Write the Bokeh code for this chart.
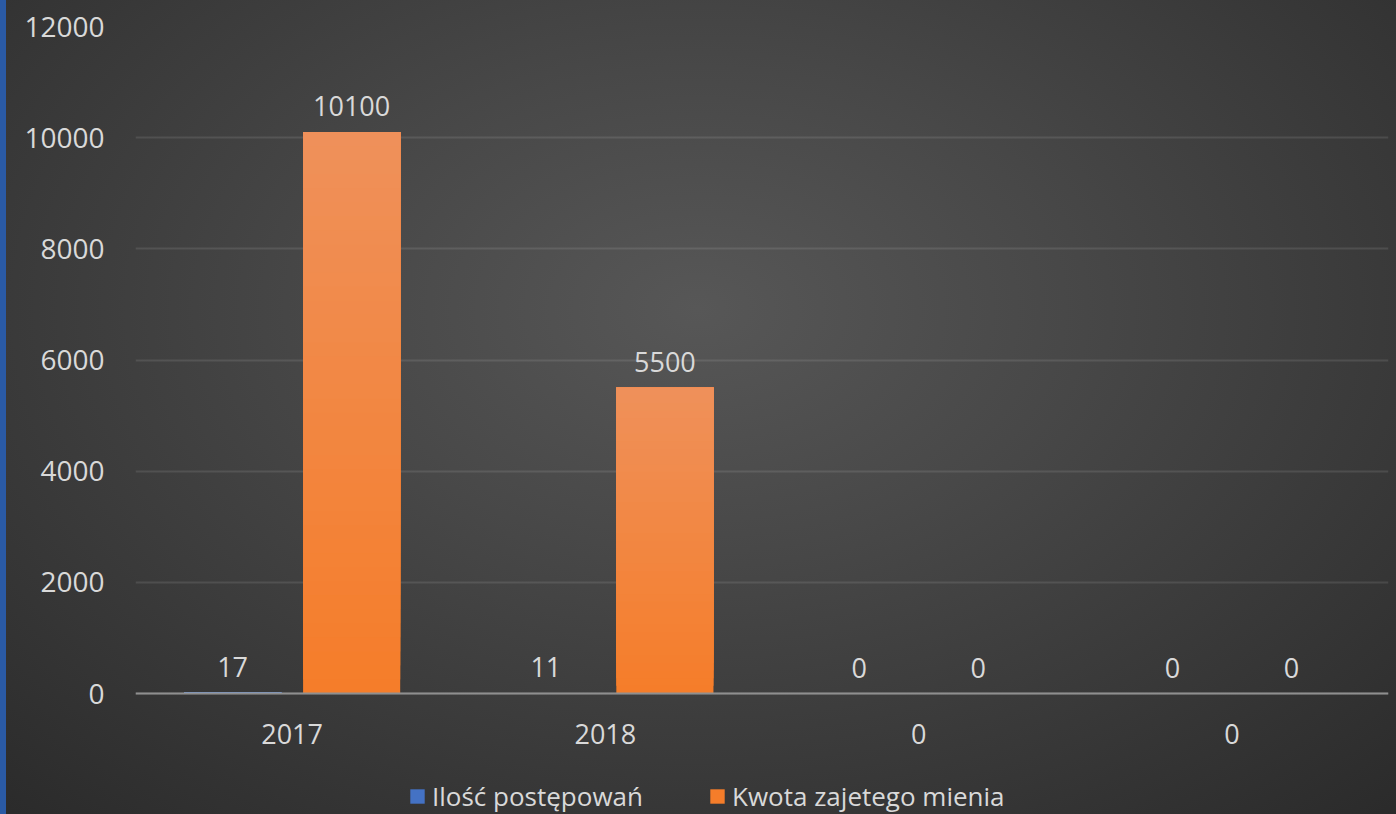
from bokeh.plotting import figure
from bokeh.models import FixedTicker, Legend, LegendItem, ColumnDataSource
from bokeh.core.properties import value
from bokeh.embed import file_html
from bokeh.resources import INLINE

categories = ["2017", "2018", "0", "0"]
series_names = ["Ilość postępowań", "Kwota zajetego mienia"]
ilosc = [17, 11, 0, 0]
kwota = [10100, 5500, 0, 0]
y_ticks = [0, 2000, 4000, 6000, 8000, 10000, 12000]

FONT = "Open Sans"
TXT = "#d9d9d9"

# frame runs to the bottom edge; value 0 sits 121px above it (space for labels + legend)
y_max = 12000
px_per_unit = 667 / y_max
y_min = -121 / px_per_unit

p = figure(width=1396, height=814, frame_width=1253, frame_height=788,
           x_range=(0, len(categories)), y_range=(y_min, y_max),
           output_backend="svg", toolbar_location=None,
           min_border_left=135, min_border_top=26, min_border_right=8, min_border_bottom=0)
p.background_fill_alpha = 0
p.border_fill_alpha = 0
p.outline_line_color = None
p.styles = {"background": "linear-gradient(to right, #2A5AA5 0px, #2A5AA5 6px, transparent 6px), "
                          "radial-gradient(ellipse 75% 85% at 50% 38%, #575757 0%, #484848 35%, #2a2a2a 100%)"}

xc = [i + 0.5 for i in range(len(categories))]
off = 0.19
bw = 0.31

def gradient_bars(xs, vals, c_top, c_bot, n=40):
    first = None
    for k in range(n):
        f0 = k / n
        col = "#%02x%02x%02x" % tuple(int(round(c_bot[j] + (c_top[j] - c_bot[j]) * f0)) for j in range(3))
        src = ColumnDataSource(dict(x=xs, b=[v * f0 for v in vals], t=list(vals)))
        r = p.vbar(x="x", bottom="b", top="t", width=bw, source=src, fill_color=col, line_color=None)
        if first is None:
            first = r
    return first

xb = [x - off for x in xc]
xo = [x + off for x in xc]
r_blue = gradient_bars(xb, ilosc, (125, 160, 220), (68, 114, 196))
r_orange = gradient_bars(xo, kwota, (239, 145, 91), (245, 125, 42))

# data labels
for xs, vals in ((xb, ilosc), (xo, kwota)):
    p.text(x=xs, y=vals, text=[str(v) for v in vals], text_align="center", text_baseline="bottom",
           y_offset=-16, text_color=TXT, text_font=value(FONT), text_font_size="27px")

# x axis pinned at value 0
p.xaxis.fixed_location = 0
p.xaxis.ticker = FixedTicker(ticks=xc)
p.xaxis.major_label_overrides = {x: c for x, c in zip(xc, categories)}
p.xaxis.major_tick_line_color = None
p.xaxis.minor_tick_line_color = None
p.xaxis.axis_line_color = "#8f8f8f"
p.xaxis.axis_line_width = 2
p.xaxis.major_label_standoff = 24
p.xaxis.major_label_text_font = FONT
p.xaxis.major_label_text_font_size = "27px"
p.xaxis.major_label_text_color = TXT

p.yaxis.ticker = FixedTicker(ticks=y_ticks)
p.yaxis.major_tick_line_color = None
p.yaxis.minor_tick_line_color = None
p.yaxis.axis_line_color = None
p.yaxis.major_label_standoff = 25
p.yaxis.major_label_text_font = FONT
p.yaxis.major_label_text_font_size = "28px"
p.yaxis.major_label_text_color = TXT

p.xgrid.grid_line_color = None
p.ygrid.grid_line_color = "#ffffff"
p.ygrid.grid_line_alpha = 0.1
p.ygrid.grid_line_width = 2

# legends (one per series, at the bottom of the frame)
legend_x = [273, 573]
for name, rend, lx in zip(series_names, (r_blue, r_orange), legend_x):
    lg = Legend(items=[LegendItem(label=name, renderers=[rend], index=0)],
                orientation="horizontal", location=(lx, 0))
    lg.background_fill_alpha = 0
    lg.border_line_color = None
    lg.label_text_font = FONT
    lg.label_text_font_size = "26px"
    lg.label_text_color = TXT
    lg.glyph_width = 18
    lg.glyph_height = 18
    lg.label_standoff = 6
    lg.padding = 0
    lg.margin = 0
    p.add_layout(lg, "center")

open("out.html", "w").write(file_html(p, INLINE))
